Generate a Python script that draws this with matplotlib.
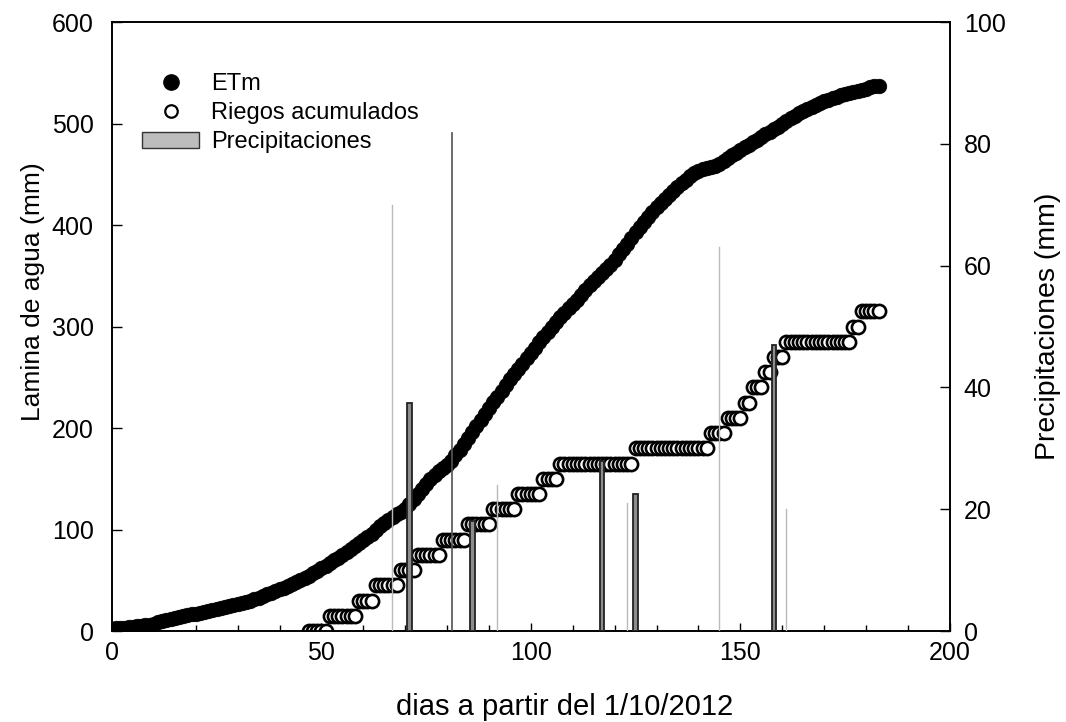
#!/usr/bin/env python3
"""
plot.py: ETm, riegos acumulados y precipitaciones desde el 1/10/2012.
"""

import numpy as np
import matplotlib
matplotlib.use("Agg")
import matplotlib.pyplot as plt
from matplotlib.patches import Patch
from matplotlib.lines import Line2D

plt.rcParams['font.family'] = ['Liberation Sans', 'DejaVu Sans']

# ETm acumulada (mm), un valor por dia, dias 0..183
etm_dias = np.arange(0, 184)
etm_mm = [
    2, 2.5, 3, 3.3, 3.7, 4, 4.5, 5, 5.5, 6, 7,
    8.5, 10, 11, 12, 13, 14, 14.5, 15.5, 16.5, 17,
    18, 19, 20, 21, 22, 23, 24, 25, 26, 27,
    28, 29, 30, 31.5, 33, 34.5, 36, 37.5, 39, 41,
    42.5, 44, 46, 48, 50, 52, 54.5, 57, 59.5, 62,
    64.5, 67, 69.5, 72, 75, 78, 81, 84, 87, 90,
    93, 96, 99.5, 103, 106, 109, 112, 115, 117.5, 120,
    125, 130, 135, 140, 145, 150, 154, 158, 161, 164,
    168, 173, 178, 184, 190, 196, 202, 208, 214, 220,
    225.5, 231, 236.5, 242, 248, 253, 258.5, 263.5, 269, 274,
    279, 284.5, 290, 295, 300, 304.5, 309, 313.5, 318, 322,
    326.5, 331, 336, 340.5, 345, 349, 353, 357, 361, 366,
    371, 376, 381, 387, 393, 398, 403, 408, 413, 418,
    422, 426, 430, 434, 437.5, 441, 444.5, 448, 451, 453.5,
    455, 456, 457, 458.5, 460, 463, 466, 468.5, 471, 474,
    476.5, 479, 481.5, 484, 487, 489.5, 492, 494.5, 497, 500,
    502.5, 505, 507.5, 510, 512, 514, 516, 518, 520, 522,
    523.5, 525, 526.5, 528, 529.5, 530.5, 531.5, 532.5, 533.5, 534.5,
    535.5, 536.5, 537,
]

# riegos acumulados (mm), un valor por dia, dias 47..183
riego_dias = np.arange(47, 184)
riego_mm = [
    0, 0, 0, 0, 0,
    15, 15, 15, 15, 15, 15, 15,
    30, 30, 30, 30,
    45, 45, 45, 45, 45, 45,
    60, 60, 60, 60,
    75, 75, 75, 75, 75, 75,
    90, 90, 90, 90, 90, 90,
    105, 105, 105, 105, 105, 105,
    120, 120, 120, 120, 120, 120,
    135, 135, 135, 135, 135, 135,
    150, 150, 150, 150,
    165, 165, 165, 165, 165, 165, 165, 165, 165,
    165, 165, 165, 165, 165, 165, 165, 165, 165,
    180, 180, 180, 180, 180, 180, 180, 180, 180,
    180, 180, 180, 180, 180, 180, 180, 180, 180,
    195, 195, 195, 195,
    210, 210, 210, 210,
    225, 225,
    240, 240, 240,
    255, 255,
    270, 270, 270,
    285, 285, 285, 285, 285, 285, 285, 285,
    285, 285, 285, 285, 285, 285, 285, 285,
    300, 300,
    315, 315, 315, 315, 315,
]

# precipitaciones (mm)
precip_dias = [67, 71, 81, 86, 92, 117, 123, 125, 145, 158, 161]
precip_mm = [70, 37.5, 82, 18, 24, 28, 21, 22.5, 63, 47, 20]

fig = plt.figure(figsize=(10.66, 7.22), dpi=100)
ax = fig.add_axes([0.105, 0.126, 0.786, 0.8435])
ax2 = ax.twinx()

ax.plot(etm_dias, etm_mm, 'o', color='black', markersize=10.5,
        markeredgewidth=0.5, zorder=3)
ax.plot(riego_dias, riego_mm, 'o', markerfacecolor='white',
        markeredgecolor='black', markersize=9.5, markeredgewidth=1.9,
        zorder=2)

# barras anchas con borde, lineas finas para el resto
thick = [71, 86, 117, 125, 158]
dark_thin = [81]
for d, v in zip(precip_dias, precip_mm):
    if d in thick:
        ax2.bar(d, v, width=1.1, color='#8c8c8c', edgecolor='#222222',
                linewidth=1.3, zorder=3)
    elif d in dark_thin:
        ax2.bar(d, v, width=0.3, color='#555555', edgecolor='#555555',
                linewidth=0.5, zorder=3)
    else:
        ax2.bar(d, v, width=0.2, color='#bbbbbb', edgecolor='#bbbbbb',
                linewidth=0.3, zorder=3)

ax.set_xlim(0, 200)
ax.set_ylim(0, 600)
ax2.set_ylim(0, 100)
ax.set_xticks([0, 50, 100, 150, 200])
ax.set_xticks(np.arange(0, 201, 10), minor=True)
ax.set_yticks([0, 100, 200, 300, 400, 500, 600])
ax2.set_yticks([0, 20, 40, 60, 80, 100])

ax.tick_params(axis='x', which='major', direction='in', length=6,
               width=1, labelsize=18, pad=7)
ax.tick_params(axis='x', which='minor', direction='in', length=4, width=1)
ax.tick_params(axis='y', direction='in', length=7, width=1,
               labelsize=18, pad=13)
ax2.tick_params(axis='y', direction='in', length=7, width=1,
                labelsize=18, pad=10)

for a in (ax, ax2):
    for s in a.spines.values():
        s.set_linewidth(1.2)

ax.set_ylabel('Lamina de agua (mm)', fontsize=19)
ax.yaxis.set_label_coords(-0.080, 0.558)
ax2.set_ylabel('Precipitaciones (mm)', fontsize=20.5)
ax2.yaxis.set_label_coords(1.102, 0.5)
ax.set_xlabel('dias a partir del 1/10/2012', fontsize=21)
ax.xaxis.set_label_coords(0.54, -0.102)

handles = [
    Line2D([], [], marker='o', linestyle='none', color='black',
           markersize=11),
    Line2D([], [], marker='o', linestyle='none', markerfacecolor='white',
           markeredgecolor='black', markersize=9, markeredgewidth=1.6),
    Patch(facecolor='#bdbdbd', edgecolor='#333333', linewidth=1),
]
ax2.legend(handles, ['ETm', 'Riegos acumulados', 'Precipitaciones'],
           loc='upper left', bbox_to_anchor=(0.025, 0.932), frameon=False,
           fontsize=17, handlelength=2.4, handletextpad=0.5,
           labelspacing=0.3, borderaxespad=0.0)

fig.savefig('out.png', dpi=100)
